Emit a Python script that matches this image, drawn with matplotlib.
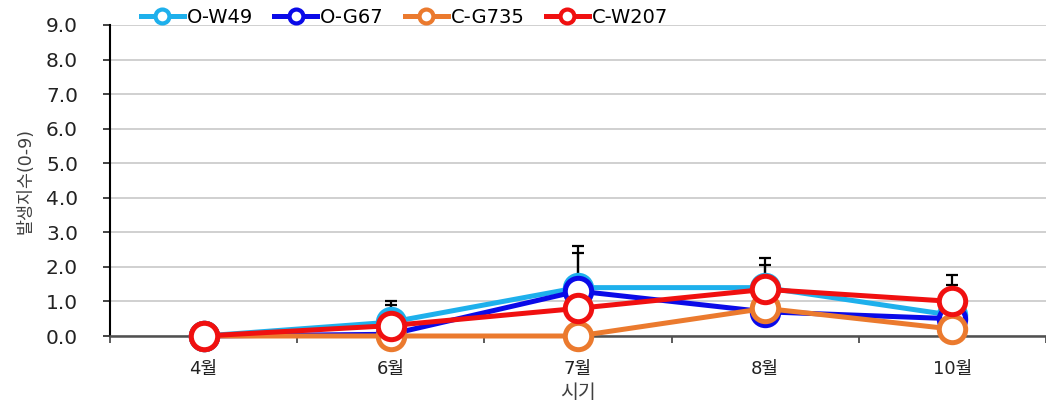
import matplotlib
matplotlib.use("Agg")
import matplotlib.pyplot as plt
from matplotlib.lines import Line2D
import numpy as np

plt.rcParams['font.family'] = ['DejaVu Sans', 'Noto Sans CJK KR']

months = ['4월', '6월', '7월', '8월', '10월']
series_names = ['O-W49', 'O-G67', 'C-G735', 'C-W207']
o_w49 = [0.0, 0.4, 1.4, 1.4, 0.6]
o_g67 = [0.0, 0.05, 1.3, 0.7, 0.5]
c_g735 = [0.0, 0.0, 0.0, 0.8, 0.2]
c_w207 = [0.0, 0.3, 0.8, 1.35, 1.0]
o_w49_err = [0.0, 0.6, 1.2, 0.85, 1.17]
o_g67_err = [0.0, 0.85, 1.1, 1.35, 0.98]

colors = ['#1EB0EC', '#0A0AE8', '#EB7A2E', '#F01010']
values = [o_w49, o_g67, c_g735, c_w207]
errors = [o_w49_err, o_g67_err, None, None]

fig = plt.figure(figsize=(10.46, 4.08), dpi=100)
ax = fig.add_axes([110 / 1046, 72 / 408, 936 / 1046, 311 / 408])

x = np.arange(len(months))

# upper-only error bars sit beneath the lines
for vals, err in zip(values, errors):
    if err is None:
        continue
    lower = np.zeros(len(err))
    ax.errorbar(x, vals, yerr=[lower, err], fmt='none', ecolor='black',
                elinewidth=1.6, capsize=4.5, capthick=1.6, zorder=2)

for i, (vals, col) in enumerate(zip(values, colors)):
    ax.plot(x, vals, color=col, lw=3.6, marker='o', ms=19,
            mfc='white', mec=col, mew=3.6, zorder=3 + i, clip_on=False)

ax.set_xlim(-0.5, 4.5)
ax.set_ylim(0, 9)
ax.set_yticks(np.arange(0, 9.01, 1.0))
ax.set_yticklabels([f'{v:.1f}' for v in np.arange(0, 9.01, 1.0)])
ax.set_xticks(x)
ax.set_xticklabels(months)
ax.set_xticks(np.arange(-0.5, 4.51, 1.0), minor=True)

ax.tick_params(axis='y', labelsize=14.5, colors='#222222', length=5,
               width=1.2, pad=18)
ax.tick_params(axis='x', which='major', length=0, labelsize=13,
               labelcolor='#222222', pad=17)
ax.tick_params(axis='x', which='minor', length=5, width=1.2,
               color='#404040', direction='out')

ax.yaxis.grid(True, color='#D0D0D0', lw=1.4, zorder=0)
ax.set_axisbelow(True)
for s in ['top', 'right']:
    ax.spines[s].set_visible(False)
ax.spines['left'].set_color('black')
ax.spines['left'].set_linewidth(1.5)
ax.spines['bottom'].set_color('#505050')
ax.spines['bottom'].set_linewidth(1.8)
ax.spines['bottom'].set_zorder(2.5)

ax.set_xlabel('시기', fontsize=14, color='#404040', labelpad=4)
ax.set_ylabel('발생지수(0-9)', fontsize=12.5, color='#404040', labelpad=8)

handles = [Line2D([0], [0], color=c, lw=3.6, marker='o', ms=10,
                  mfc='white', mec=c, mew=3.0) for c in colors]
fig.legend(handles, series_names, loc='upper left',
           bbox_to_anchor=(133 / 1046, 1.0), ncol=4, frameon=False,
           fontsize=14, handlelength=2.2, handletextpad=0.15,
           columnspacing=1.1, borderaxespad=0)

fig.savefig('out.png', dpi=100)
